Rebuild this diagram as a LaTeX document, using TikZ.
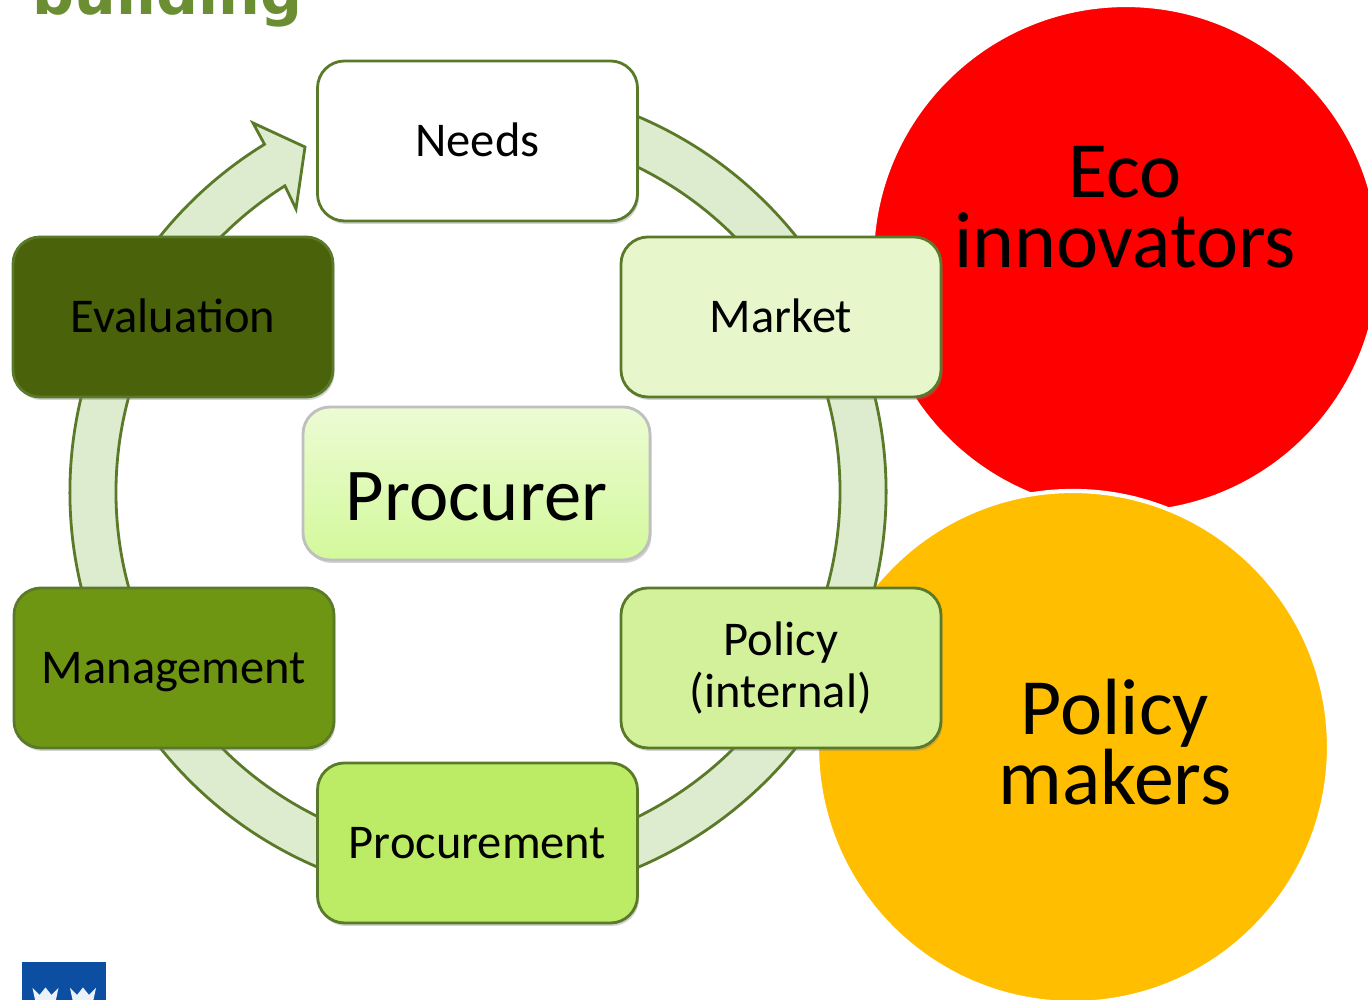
\documentclass[tikz,border=0pt]{standalone}
\usepackage{fontspec}
\setmainfont{Carlito}
\newfontfamily\titlefont{DejaVu Sans}
\usetikzlibrary{shadows}

\definecolor{ringfill}{HTML}{DDECCE}
\definecolor{ringline}{HTML}{5A7A2A}
\definecolor{titlegreen}{HTML}{6B8E32}
\definecolor{logoblue}{HTML}{0B4EA2}
\definecolor{amber}{HTML}{FFBE00}
\definecolor{marketgreen}{HTML}{E8F6CC}
\definecolor{internalgreen}{HTML}{D3F19A}
\definecolor{procurementgreen}{HTML}{BCEB65}
\definecolor{managementgreen}{HTML}{6E9612}
\definecolor{evaluationgreen}{HTML}{4A6209}
\definecolor{procurertop}{HTML}{ECFBD4}
\definecolor{procurerbottom}{HTML}{D3F99B}

\begin{document}
\begin{tikzpicture}
    \tikzstyle{box}=[rectangle, rounded corners=.27cm, draw=ringline, line width=.8pt, minimum width=3.2cm, minimum height=1.6cm, inner sep=0pt, align=center, font=\fontsize{13.8}{14.8}\selectfont, drop shadow={opacity=.35, shadow xshift=.015cm, shadow yshift=-.03cm}]
    \tikzstyle{oneline}=[text height=.38cm, text depth=.06cm]
    \tikzstyle{bigcircle}=[circle, draw=white, line width=1.2pt, minimum size=5.08cm, inner sep=0pt]
    \tikzstyle{bigtext}=[align=center, font=\fontsize{22.7}{20}\selectfont]

    \useasboundingbox (0,0) rectangle (13.68,10);
    \clip (0,0) rectangle (13.68,10);

    % Title and logo
    \node[anchor=base west, inner sep=0pt, text=titlegreen, font=\titlefont\bfseries\fontsize{16.7}{18}\selectfont] (title) at (.32,9.85) {building};
    \fill[logoblue] (.22,0) rectangle (1.06,.38);
    \foreach \cx in {.455,.83}
        \fill[white!92!logoblue] (\cx-.13,.12) -- (\cx-.06,.05) -- (\cx,.125) -- (\cx+.06,.05) -- (\cx+.13,.12) -- (\cx+.1,-.02) -- (\cx-.1,-.02) -- cycle;

    % Circles
    \node[bigcircle, fill=red] (eco) at (11.26,7.41) {};
    \node[bigcircle, fill=amber, minimum size=5.12cm] (policymakers) at (10.73,2.53) {};
    \node[bigtext] (ecotext) at (11.25,7.93) {Eco\\innovators};
    \node[bigtext] (policytext) at (11.15,2.58) {Policy\\makers};

    % Ring
    \begin{scope}[shift={(4.78,5.08)}]
        \draw[fill=ringfill, draw=ringline, line width=.8pt, line join=miter] (75:4.08) arc[start angle=75, end angle=-238.45, radius=4.08] -- (-2.25,3.69) -- (-1.73,3.45) -- (-1.82,2.83) -- (-237.76:3.62) arc[start angle=-237.76, end angle=75, radius=3.62] -- cycle;
    \end{scope}

    % Boxes
    \node[box, oneline, fill=white] (needs) at (4.775,8.59) {Needs};
    \node[box, oneline, fill=marketgreen] (market) at (7.81,6.83) {Market};
    \node[box, fill=internalgreen] (internal) at (7.81,3.32) {Policy\\(internal)};
    \node[box, oneline, fill=procurementgreen] (procurement) at (4.775,1.57) {Procurement};
    \node[box, oneline, fill=managementgreen] (management) at (1.74,3.32) {Management};
    \node[box, oneline, fill=evaluationgreen] (evaluation) at (1.73,6.83) {Evaluation};
    \node[box, draw=black!25!white, top color=procurertop, bottom color=procurerbottom, minimum width=3.47cm, minimum height=1.53cm, text height=.86cm, text depth=.12cm, font=\fontsize{21.2}{22}\selectfont] (procurer) at (4.765,5.165) {Procurer};
\end{tikzpicture}
\end{document}
